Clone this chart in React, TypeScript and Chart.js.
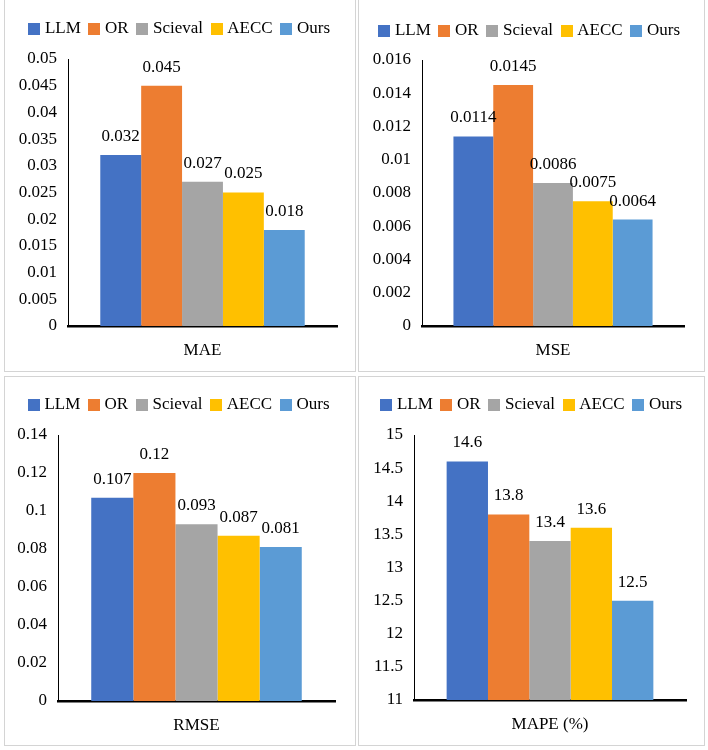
import React, { useEffect, useRef } from 'react';
import { Chart, registerables } from 'chart.js';

Chart.register(...registerables);

const methods = ['LLM', 'OR', 'Scieval', 'AECC', 'Ours'];
const methodColors = ['#4472C4', '#ED7D31', '#A5A5A5', '#FFC000', '#5B9BD5'];

const maeValues = [0.032, 0.045, 0.027, 0.025, 0.018];
const mseValues = [0.0114, 0.0145, 0.0086, 0.0075, 0.0064];
const rmseValues = [0.107, 0.12, 0.093, 0.087, 0.081];
const mapeValues = [14.6, 13.8, 13.4, 13.6, 12.5];

const metricLabels = ['MAE', 'MSE', 'RMSE', 'MAPE (%)'];

// y axis ranges: [min, max, step]
const maeAxis = [0, 0.05, 0.005];
const mseAxis = [0, 0.016, 0.002];
const rmseAxis = [0, 0.14, 0.02];
const mapeAxis = [11, 15, 0.5];

const FONT = "'Liberation Serif', 'Times New Roman', Times, serif";

type Spec = {
  label: string;
  values: number[];
  axis: number[];
  left: number;
  top: number;
  width: number;
  height: number;
  yWidth: number;
  padRight: number;
  plotTop: number;
  xHeight: number;
  legendCenter: number;
  legendShift: number;
};

const valueLabelPlugin = {
  id: 'valueLabels',
  afterDatasetsDraw(chart: any, _args: any, opts: any) {
    const ctx = chart.ctx;
    ctx.save();
    ctx.font = `17px ${FONT}`;
    ctx.fillStyle = '#000';
    ctx.textAlign = 'center';
    ctx.textBaseline = 'middle';
    chart.data.datasets.forEach((ds: any, i: number) => {
      const meta = chart.getDatasetMeta(i);
      meta.data.forEach((el: any, j: number) => {
        ctx.fillText(String(ds.data[j]), el.x, el.y - (opts.offset ?? 18));
      });
    });
    ctx.restore();
  },
};

function makeLegendPlugin(h: number, dx: number) {
  return {
    id: 'legendBox',
    beforeLayout(chart: any) {
      const lg = chart.legend;
      if (!lg || lg.__patched) return;
      const fit = lg.fit;
      lg.fit = function () {
        fit.call(this);
        this.height = h;
      };
      lg.__patched = true;
    },
    afterLayout(chart: any) {
      const lg = chart.legend;
      if (!lg) return;
      lg.left += dx;
      lg.right += dx;
    },
  };
}

function makeSwatch(color: string, size: number) {
  const c = document.createElement('canvas');
  c.width = size;
  c.height = size;
  const g = c.getContext('2d');
  if (g) {
    g.fillStyle = color;
    g.fillRect(0, 0, size, size);
  }
  return c;
}

const LEGEND_PAD = 11.4;
const LEGEND_BOXW = 4.4;

function Panel({ spec }: { spec: Spec }) {
  const ref = useRef<HTMLCanvasElement | null>(null);
  useEffect(() => {
    if (!ref.current) return;
    const swatches = methodColors.map((c) => makeSwatch(c, 12));
    const padTop = spec.legendCenter - LEGEND_PAD - 8.5;
    const legendH = spec.plotTop - padTop;
    const [min, max, step] = spec.axis;
    const chart = new Chart(ref.current, {
      type: 'bar',
      data: {
        labels: [spec.label],
        datasets: methods.map((m, i) => ({
          label: m,
          data: [spec.values[i]],
          backgroundColor: methodColors[i],
          borderWidth: 0,
          categoryPercentage: 0.76,
          barPercentage: 1,
        })),
      },
      options: {
        responsive: false,
        maintainAspectRatio: false,
        animation: false,
        layout: { padding: { top: padTop, right: spec.padRight, left: 0, bottom: 0 } },
        plugins: {
          tooltip: { enabled: false },
          legend: {
            display: true,
            position: 'top',
            labels: {
              usePointStyle: true,
              pointStyleWidth: LEGEND_BOXW,
              boxWidth: 12,
              boxHeight: 12,
              padding: LEGEND_PAD,
              color: '#000',
              font: { family: FONT, size: 17 },
              generateLabels: (ch: any) =>
                (Chart.defaults.plugins.legend.labels as any)
                  .generateLabels(ch)
                  .map((l: any, i: number) => ({ ...l, pointStyle: swatches[i] })),
            },
          },
          valueLabels: { offset: 18.5 },
        } as any,
        scales: {
          x: {
            grid: { display: false, drawTicks: false },
            border: { display: true, color: '#000', width: 2.5 },
            ticks: { color: '#000', font: { family: FONT, size: 17 }, padding: 14 },
            afterFit: (s: any) => {
              s.height = spec.xHeight;
            },
          },
          y: {
            min,
            max,
            grid: { display: false, drawTicks: false },
            border: { display: true, color: '#000', width: 1 },
            ticks: {
              stepSize: step,
              color: '#000',
              font: { family: FONT, size: 17 },
              padding: 11,
              callback: (v: any) => String(Number(Number(v).toFixed(6))),
            },
            afterFit: (s: any) => {
              s.width = spec.yWidth;
            },
          },
        },
      },
      plugins: [valueLabelPlugin, makeLegendPlugin(legendH, spec.legendShift)],
    });
    return () => chart.destroy();
  }, [spec]);

  return (
    <div
      style={{
        position: 'absolute',
        left: spec.left,
        top: spec.top,
        width: spec.width,
        height: spec.height,
        boxSizing: 'border-box',
        border: '1px solid #d4d4d4',
        background: '#fff',
      }}
    >
      <canvas
        ref={ref}
        width={spec.width - 2}
        height={spec.height - 2}
        style={{ display: 'block', width: spec.width - 2, height: spec.height - 2 }}
      />
    </div>
  );
}

const specs: Spec[] = [
  { label: metricLabels[0], values: maeValues, axis: maeAxis, left: 4, top: -1, width: 352, height: 373, yWidth: 63, padRight: 18, plotTop: 59, xHeight: 45, legendCenter: 28.5, legendShift: 10 },
  { label: metricLabels[1], values: mseValues, axis: mseAxis, left: 358, top: -1, width: 347, height: 373, yWidth: 63, padRight: 20, plotTop: 60, xHeight: 45, legendCenter: 30.5, legendShift: 9.5 },
  { label: metricLabels[2], values: rmseValues, axis: rmseAxis, left: 4, top: 376, width: 352, height: 370, yWidth: 53, padRight: 20, plotTop: 58, xHeight: 44, legendCenter: 27.5, legendShift: 10.5 },
  { label: metricLabels[3], values: mapeValues, axis: mapeAxis, left: 358, top: 376, width: 347, height: 370, yWidth: 55, padRight: 18, plotTop: 58, xHeight: 45, legendCenter: 27.5, legendShift: 10.5 },
];

export default function App() {
  return (
    <div style={{ position: 'absolute', left: 0, top: 0, width: 708, height: 750, background: '#fff', overflow: 'hidden' }}>
      {specs.map((s) => (
        <Panel key={s.label} spec={s} />
      ))}
    </div>
  );
}
